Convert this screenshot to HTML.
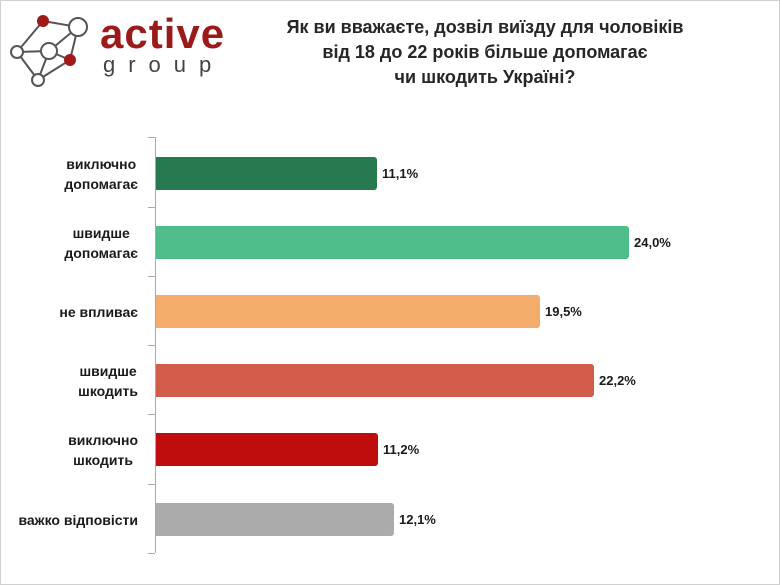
<!DOCTYPE html>
<html><head><meta charset="utf-8"><style>
body{margin:0;width:780px;height:585px;background:#fff;font-family:"Liberation Sans",sans-serif;overflow:hidden}
.frame{position:absolute;left:0;top:0;width:778px;height:583px;border:1px solid #d0d0d0}
.t{position:absolute;font-weight:bold;color:#262626}
.bar{position:absolute;left:156px;height:33px;border-radius:0 3px 3px 0}
.lab{position:absolute;right:642px;text-align:center;font-weight:bold;font-size:14px;line-height:20px;color:#1a1a1a}
.v{position:absolute;font-weight:bold;font-size:13px;color:#1a1a1a}
.tick{position:absolute;left:148px;width:7px;height:1px;background:#aaa}
</style></head><body>
<div class="frame"></div>
<svg style="position:absolute;left:0;top:0" width="100" height="90">
<g stroke="#555" stroke-width="2" fill="none">
<path d="M43 21L78 27L70 60L38 80L17 52L43 21M49 51L78 27M49 51L70 60M49 51L38 80M49 51L17 52"/>
</g>
<circle cx="43" cy="21" r="6" fill="#a01818"/>
<circle cx="78" cy="27" r="9" fill="#fff" stroke="#555" stroke-width="2"/>
<circle cx="49" cy="51" r="8" fill="#fff" stroke="#555" stroke-width="2"/>
<circle cx="17" cy="52" r="6" fill="#fff" stroke="#555" stroke-width="2"/>
<circle cx="70" cy="60" r="6" fill="#a01818"/>
<circle cx="38" cy="80" r="6" fill="#fff" stroke="#555" stroke-width="2"/>
</svg>
<div class="t" style="left:100px;top:10px;font-size:42px;color:#9b1b1b;letter-spacing:1px">active</div>
<div class="t" style="left:103px;top:52px;font-size:22px;color:#444;letter-spacing:13px;font-weight:normal">group</div>
<div class="t" style="left:240px;top:15px;width:490px;text-align:center;font-size:18px;line-height:25px">Як ви вважаєте, дозвіл виїзду для чоловіків<br>від 18 до 22 років більше допомагає<br>чи шкодить Україні?</div>
<div style="position:absolute;left:155px;top:137px;width:1px;height:416px;background:#aaa"></div>
<div class="tick" style="top:137px"></div><div class="tick" style="top:207px"></div><div class="tick" style="top:276px"></div><div class="tick" style="top:345px"></div><div class="tick" style="top:414px"></div><div class="tick" style="top:484px"></div><div class="tick" style="top:553px"></div>
<div class="bar" style="top:157px;width:221px;background:#277a50"></div>
<div class="bar" style="top:226px;width:473px;background:#4fbd89"></div>
<div class="bar" style="top:295px;width:384px;background:#f3ac6a"></div>
<div class="bar" style="top:364px;width:438px;background:#d15c49"></div>
<div class="bar" style="top:433px;width:222px;background:#bf0d0d"></div>
<div class="bar" style="top:503px;width:238px;background:#ababab"></div>
<div class="lab" style="top:154px">виключно<br>допомагає</div>
<div class="lab" style="top:223px">швидше<br>допомагає</div>
<div class="lab" style="top:302px">не впливає</div>
<div class="lab" style="top:361px">швидше<br>шкодить</div>
<div class="lab" style="top:430px">виключно<br>шкодить</div>
<div class="lab" style="top:510px">важко відповісти</div>
<div class="v" style="left:382px;top:166px">11,1%</div>
<div class="v" style="left:634px;top:235px">24,0%</div>
<div class="v" style="left:545px;top:304px">19,5%</div>
<div class="v" style="left:599px;top:373px">22,2%</div>
<div class="v" style="left:383px;top:442px">11,2%</div>
<div class="v" style="left:399px;top:512px">12,1%</div>
</body></html>
